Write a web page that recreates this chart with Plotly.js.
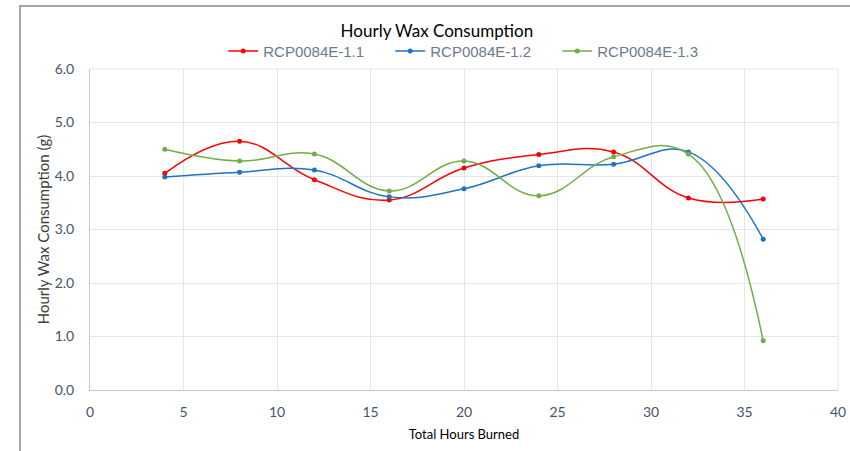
<!DOCTYPE html>
<html>
<head>
<meta charset="utf-8">
<script src="https://cdn.plot.ly/plotly-3.0.1.min.js"></script>
<style>
html,body{margin:0;padding:0;background:#fff;}
#wrap{position:relative;width:850px;height:451px;overflow:hidden;}
#frame{position:absolute;left:19px;top:5px;width:900px;height:500px;border-left:2px solid #a6a6a6;border-top:2px solid #a6a6a6;pointer-events:none;}
#chart{position:absolute;left:0;top:0;width:850px;height:451px;}
</style>
</head>
<body>
<div id="wrap"><div id="frame"></div><div id="chart"></div></div>
<script>
const hours = [4, 8, 12, 16, 20, 24, 28, 32, 36];
const seriesNames = ["RCP0084E-1.1", "RCP0084E-1.2", "RCP0084E-1.3"];
const red11 = [4.05, 4.65, 3.93, 3.55, 4.15, 4.40, 4.45, 3.59, 3.57];
const blue12 = [3.98, 4.07, 4.11, 3.61, 3.76, 4.19, 4.22, 4.45, 2.82];
const green13 = [4.50, 4.28, 4.41, 3.72, 4.28, 3.63, 4.36, 4.41, 0.92];
const xTicks = [0, 5, 10, 15, 20, 25, 30, 35, 40];
const yTicks = [0, 1, 2, 3, 4, 5, 6];

const colors = ["#ff0000", "#1f72c4", "#70ad47"];
const values = [red11, blue12, green13];
const font = "Lato, 'Open Sans', sans-serif";

const traces = values.map((v, i) => ({
  x: hours, y: v, name: seriesNames[i], type: "scatter", mode: "lines+markers",
  line: {color: colors[i], width: 1.5, shape: "spline", smoothing: 1.2},
  marker: {color: colors[i], size: 5}
}));

const layout = {
  width: 850, height: 451,
  paper_bgcolor: "rgba(0,0,0,0)", plot_bgcolor: "#fff",
  margin: {l: 90, r: 12, t: 69, b: 61},
  font: {family: font, color: "#44546a"},
  title: {text: "Hourly Wax Consumption", font: {family: font, size: 17, color: "#000"},
          x: 0.514, xref: "container", xanchor: "center", y: 0.932, yref: "container", yanchor: "middle"},
  showlegend: true,
  legend: {orientation: "h", x: 0.513, xanchor: "center", y: 1.055, yanchor: "middle", yref: "paper",
           entrywidth: 122, entrywidthmode: "pixels",
           font: {family: "'Liberation Sans', sans-serif", size: 15, color: "#6b7a8f"}, itemwidth: 30, traceorder: "normal"},
  xaxis: {range: [0, 40], tickvals: xTicks, ticktext: xTicks.map(String),
          showgrid: true, gridcolor: "#e3e6ec", gridwidth: 1, zeroline: false,
          showline: true, linecolor: "#bfc7d5", linewidth: 1, ticks: "outside", ticklen: 9, tickcolor: "rgba(0,0,0,0)",
          tickfont: {family: font, size: 14, color: "#44546a"},
          title: {text: "Total Hours Burned", font: {family: font, size: 13, color: "#000"}, standoff: 11}},
  yaxis: {range: [0, 6], tickvals: yTicks, ticktext: yTicks.map(v => v.toFixed(1)),
          showgrid: true, gridcolor: "#e3e6ec", gridwidth: 1, zeroline: false,
          showline: true, linecolor: "#bfc7d5", linewidth: 1, ticks: "outside", ticklen: 12, tickcolor: "rgba(0,0,0,0)",
          tickfont: {family: font, size: 14, color: "#44546a"},
          title: {text: "Hourly Wax Consumption (g)", font: {family: font, size: 15, color: "#404040"}, standoff: 1}},
  shapes: [{type: "line", xref: "paper", yref: "paper", x0: 1, x1: 1, y0: 0, y1: 1, line: {color: "#e3e6ec", width: 1}},
           {type: "line", xref: "paper", yref: "paper", x0: 0, x1: 1, y0: 1, y1: 1, line: {color: "#e3e6ec", width: 1}}]
};

Plotly.newPlot("chart", traces, layout, {displayModeBar: false, staticPlot: true});
</script>
</body>
</html>
